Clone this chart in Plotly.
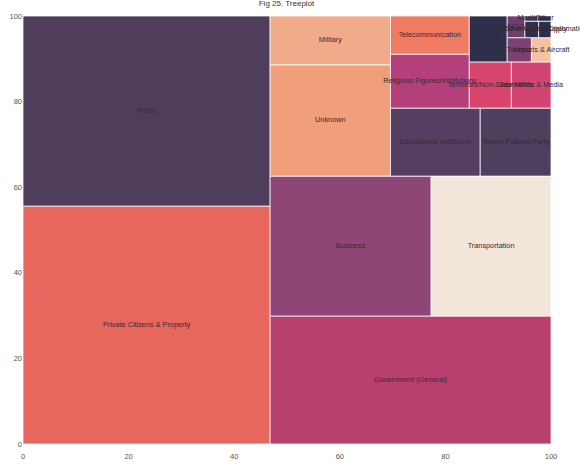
import plotly.graph_objects as go

# ---- data ----
labels = [
    "Private Citizens & Property", "Police", "Government (General)", "Business",
    "Transportation", "Unknown", "Military", "Educational Institution",
    "Violent Political Party", "Religious Figures/Institutions", "Telecommunication",
    "Terrorists/Non-State Militia", "Journalists & Media", "Utilities", "Tourists",
    "Airports & Aircraft", "NGO", "Food or Water Supply", "Government (Diplomatic)",
    "Maritime", "Other",
]
values = [2602, 2078, 1591, 997, 742, 593, 260, 270, 213, 188, 133,
          86, 81, 77, 26, 21, 17, 10, 9, 3, 3]
colors = [
    "#E7675E", "#4E3E5C", "#B8406F", "#8E4677", "#F2E5D9", "#F19E7A", "#F2AB8A",
    "#553E62", "#4F3F5E", "#B3407A", "#EF7B63", "#D8456C", "#D24573", "#2E2F4A",
    "#7C4172", "#F4C3A3", "#6E3F6E", "#2E3049", "#2C2F4B", "#4B3B5C", "#2E2F4A",
]

# ---- squarify layout (same algorithm as the squarify package) ----
def normalize_sizes(sizes, dx, dy):
    total = float(sum(sizes))
    return [s * dx * dy / total for s in sizes]

def layoutrow(sizes, x, y, dx, dy):
    covered = sum(sizes)
    width = covered / dy
    rects = []
    for s in sizes:
        rects.append((x, y, width, s / width))
        y += s / width
    return rects

def layoutcol(sizes, x, y, dx, dy):
    covered = sum(sizes)
    height = covered / dx
    rects = []
    for s in sizes:
        rects.append((x, y, s / height, height))
        x += s / height
    return rects

def layout(sizes, x, y, dx, dy):
    return layoutrow(sizes, x, y, dx, dy) if dx >= dy else layoutcol(sizes, x, y, dx, dy)

def leftover(sizes, x, y, dx, dy):
    covered = sum(sizes)
    if dx >= dy:
        width = covered / dy
        return x + width, y, dx - width, dy
    height = covered / dx
    return x, y + height, dx, dy - height

def worst_ratio(sizes, x, y, dx, dy):
    return max(max(r[2] / r[3], r[3] / r[2]) for r in layout(sizes, x, y, dx, dy))

def squarify(sizes, x, y, dx, dy):
    if len(sizes) == 0:
        return []
    if len(sizes) == 1:
        return layout(sizes, x, y, dx, dy)
    i = 1
    while i < len(sizes) and worst_ratio(sizes[:i], x, y, dx, dy) >= worst_ratio(sizes[:i + 1], x, y, dx, dy):
        i += 1
    current, remaining = sizes[:i], sizes[i:]
    lx, ly, ldx, ldy = leftover(current, x, y, dx, dy)
    return layout(current, x, y, dx, dy) + squarify(remaining, lx, ly, ldx, ldy)

W, H = 100.0, 100.0
rects = squarify(normalize_sizes(values, W, H), 0, 0, W, H)

FONT = "Liberation Sans Narrow, Liberation Sans, Arial, sans-serif"

fig = go.Figure()
for (x, y, dx, dy), lab, col in zip(rects, labels, colors):
    fig.add_trace(go.Scatter(
        x=[x, x + dx, x + dx, x, x], y=[y, y, y + dy, y + dy, y],
        mode="lines", fill="toself", fillcolor=col,
        line=dict(color="rgba(255,255,255,0.75)", width=1),
        hoverinfo="skip", showlegend=False,
    ))

fig.add_trace(go.Scatter(
    x=[r[0] + r[2] / 2 for r in rects], y=[r[1] + r[3] / 2 for r in rects],
    mode="text", text=labels, cliponaxis=False,
    textfont=dict(family=FONT, size=7.3, color="#352a35"),
    hoverinfo="skip", showlegend=False,
))

axis_font = dict(family=FONT, size=7.5, color="#555555")
fig.update_layout(
    width=580, height=464,
    margin=dict(l=23, r=29, t=16, b=20, autoexpand=False),
    paper_bgcolor="white", plot_bgcolor="white",
    title=dict(text="Fig 25. Treeplot", x=0.494, xanchor="center", y=0.999, yanchor="top",
               pad=dict(t=0, b=0),
               font=dict(family=FONT, size=8, color="#333333")),
    xaxis=dict(range=[0, 100], tickvals=[0, 20, 40, 60, 80, 100], showgrid=False, zeroline=False,
               showline=False, ticks="", tickfont=axis_font, fixedrange=True, automargin=False,
               ticklabelstandoff=6),
    yaxis=dict(range=[0, 100], tickvals=[0, 20, 40, 60, 80, 100], showgrid=False, zeroline=False,
               showline=False, ticks="", tickfont=axis_font, fixedrange=True, automargin=False),
)

fig.write_html(
    "out.html",
    config={"displayModeBar": False},
    post_script="document.body.style.margin='0px';document.body.style.overflow='hidden';",
)
